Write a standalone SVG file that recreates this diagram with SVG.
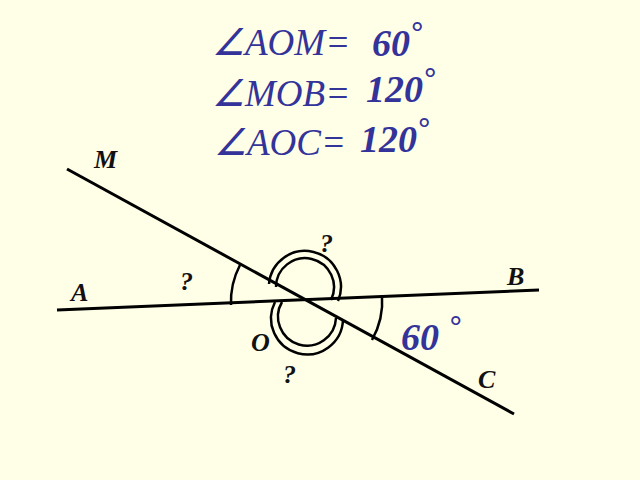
<svg xmlns="http://www.w3.org/2000/svg" width="640" height="480" viewBox="0 0 640 480">
<style>
.t{font-family:"Liberation Serif",serif;font-style:italic;fill:#333399;font-size:37px}
.v{font-family:"Liberation Serif",serif;font-style:italic;font-weight:bold;fill:#333399;font-size:38px}
.l{font-family:"Liberation Serif",serif;font-style:italic;font-weight:bold;fill:#111;font-size:26px}
.ln{stroke:#000;stroke-width:3;fill:none}
.a{stroke:#000;stroke-width:2.5;fill:none}
</style>
<rect width="640" height="480" fill="#FFFFE8"/>
<g id="title">
<text class="t" x="212" y="55">∠AOM=</text><text class="v" x="372" y="56">60<tspan font-size="30" dy="-14">°</tspan></text>
<text class="t" x="212" y="106">∠MOB=</text><text class="v" x="366" y="102">120<tspan font-size="30" dy="-14">°</tspan></text>
<text class="t" x="214" y="155">∠AOC=</text><text class="v" x="360" y="152">120<tspan font-size="30" dy="-14">°</tspan></text>
</g>
<g id="connectors">
<line class="ln" x1="57" y1="310" x2="539" y2="290"/>
<line class="ln" x1="67" y1="169" x2="514" y2="414"/>
<path class="a" d="M240,265 A80,80 0 0 0 231,305"/>
<path class="a" d="M382,295 A80,80 0 0 1 372,340"/>
<path class="a" d="M269,284 A36,36 0 1 1 338,301"/>
<path class="a" d="M276,287 A29,29 0 1 1 331,300"/>
<path class="a" d="M275,302 A36,36 0 1 0 343,320"/>
<path class="a" d="M282,302 A29,29 0 1 0 336,318"/>
</g>
<g id="labels">
<text class="l" x="94" y="168">M</text>
<text class="l" x="320" y="252">?</text>
<text class="l" x="180" y="290">?</text>
<text class="l" x="507" y="285">B</text>
<text class="l" x="71" y="301">A</text>
<text class="l" x="251" y="351">O</text>
<text class="v" x="401" y="350">60 <tspan font-size="30" dy="-14">°</tspan></text>
<text class="l" x="283" y="383">?</text>
<text class="l" x="478" y="388">C</text>
</g>
</svg>
